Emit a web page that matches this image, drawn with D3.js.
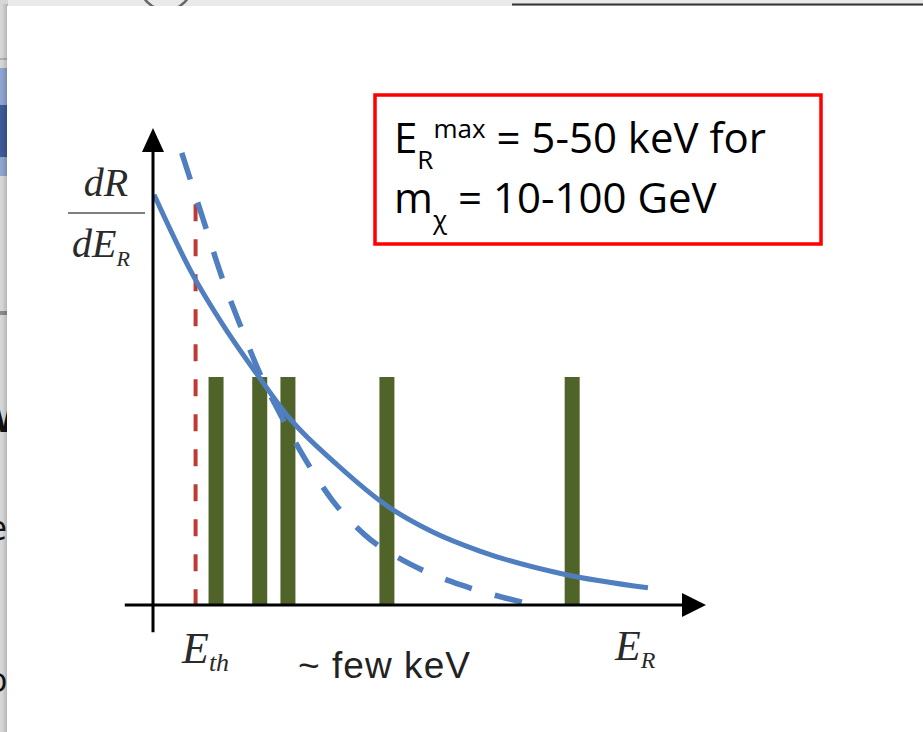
<!DOCTYPE html>
<html>
<head>
<meta charset="utf-8">
<script src="https://cdn.jsdelivr.net/npm/d3@7"></script>
<style>
  body { margin: 0; background: #ececec; }
  svg { display: block; }
</style>
</head>
<body>
<div id="chart"></div>
<script>
// Recoil spectrum sketch, arbitrary units (0-100 on both axes)
const solidCurve = [
    [0.2, 86.0], [7.2, 69.2], [13.0, 58.1], [18.8, 48.4], [24.8, 39.0],
    [33.3, 29.4], [42.3, 20.8], [50.6, 15.3], [59.1, 11.3], [74.1, 6.5],
    [89.5, 3.6]
];
const dashedCurve = [
    [5.2, 94.8], [9.0, 81.1], [12.5, 68.6], [16.1, 57.7], [19.3, 48.6],
    [23.1, 39.8], [27.3, 31.0], [32.4, 22.0], [38.3, 14.7], [46.8, 8.4],
    [55.7, 4.2], [66.7, 0.6]
];
const lineEnergies = [11.4, 19.3, 24.4, 42.3, 75.8];
const lineHeight = 47.8;
const threshold = 7.7;
const thresholdTop = 84.0;

const W = 923, H = 732;
const svg = d3.select("#chart").append("svg")
    .attr("width", W)
    .attr("height", H);

// background slide bits peeking out behind the popup
const bg = svg.append("g");
bg.append("rect").attr("x", 0).attr("y", 0).attr("width", W).attr("height", H).attr("fill", "#e9e9e9");
bg.append("rect").attr("x", 0).attr("y", 0).attr("width", 8).attr("height", H).attr("fill", "#d6d6d6");
bg.append("rect").attr("x", 0).attr("y", 68).attr("width", 8).attr("height", 108).attr("fill", "#8ea3cf");
bg.append("rect").attr("x", 0).attr("y", 105).attr("width", 8).attr("height", 52).attr("fill", "#3d5a96");
bg.append("rect").attr("x", 0).attr("y", 58).attr("width", 8).attr("height", 2).attr("fill", "#b0b0b0");
bg.append("rect").attr("x", 0).attr("y", 311).attr("width", 8).attr("height", 4).attr("fill", "#8a8a8a");
bg.append("line").attr("x1", 512).attr("x2", W).attr("y1", 4.5).attr("y2", 4.5)
    .attr("stroke", "#333").attr("stroke-width", 2);
bg.append("circle").attr("cx", 166).attr("cy", -16).attr("r", 26)
    .attr("fill", "none").attr("stroke", "#666").attr("stroke-width", 2.5);
bg.append("text").attr("x", -24).attr("y", 432).attr("font-family", "Open Sans")
    .attr("font-weight", "bold").attr("font-size", 40).attr("fill", "#111").text("W");
bg.append("text").attr("x", -12).attr("y", 540).attr("font-family", "Open Sans")
    .attr("font-size", 34).attr("fill", "#111").text("e");
bg.append("text").attr("x", -13).attr("y", 692).attr("font-family", "Open Sans")
    .attr("font-size", 34).attr("fill", "#111").text("o");

// popup panel with soft left shadow
const defs = svg.append("defs");
const grad = defs.append("linearGradient").attr("id", "shade").attr("x1", 0).attr("x2", 1);
grad.append("stop").attr("offset", 0).attr("stop-color", "#000").attr("stop-opacity", 0);
grad.append("stop").attr("offset", 1).attr("stop-color", "#000").attr("stop-opacity", 0.18);
svg.append("rect").attr("x", 2).attr("y", 4).attr("width", 6).attr("height", H).attr("fill", "url(#shade)");
svg.append("rect").attr("x", 7).attr("y", 6).attr("width", W).attr("height", H).attr("fill", "#fff");

const x = d3.scaleLinear().domain([0, 100]).range([153, 706]);
const y = d3.scaleLinear().domain([0, 100]).range([605, 128]);

const chart = svg.append("g");

// discrete lines (green bars)
chart.selectAll("rect.peak")
    .data(lineEnergies)
    .enter()
    .append("rect")
    .attr("class", "peak")
    .attr("x", d => x(d) - 7.5)
    .attr("y", y(lineHeight))
    .attr("width", 15)
    .attr("height", y(0) - y(lineHeight))
    .attr("fill", "#50642a");

// threshold
chart.append("line")
    .attr("x1", x(threshold)).attr("x2", x(threshold))
    .attr("y1", y(thresholdTop)).attr("y2", y(0))
    .attr("stroke", "#bd3a35")
    .attr("stroke-width", 4)
    .attr("stroke-dasharray", "17 18");

const line = d3.line()
    .x(d => x(d[0]))
    .y(d => y(d[1]))
    .curve(d3.curveMonotoneX);

const dashed = chart.append("path")
    .attr("d", line(dashedCurve))
    .attr("fill", "none")
    .attr("stroke", "#4f7fc0")
    .attr("stroke-width", 5.5);

// spread the dashes so the curve starts and ends on a dash
const len = dashed.node().getTotalLength();
const dash = 28;
const n = Math.round((len - dash) / 52);
dashed.attr("stroke-dasharray", `${dash} ${(len - (n + 1) * dash) / n}`);

chart.append("path")
    .attr("d", line(solidCurve))
    .attr("fill", "none")
    .attr("stroke", "#4f7fc0")
    .attr("stroke-width", 5);

// axes with arrow heads
chart.append("line")
    .attr("x1", x(-5.1)).attr("x2", x(97))
    .attr("y1", y(0)).attr("y2", y(0))
    .attr("stroke", "#000").attr("stroke-width", 3);
chart.append("line")
    .attr("x1", x(0)).attr("x2", x(0))
    .attr("y1", y(-5.7)).attr("y2", y(96))
    .attr("stroke", "#000").attr("stroke-width", 3);
chart.append("path")
    .attr("d", `M${x(100)},${y(0)} L${x(100) - 24},${y(0) - 12} L${x(100) - 24},${y(0) + 12} Z`)
    .attr("fill", "#000");
chart.append("path")
    .attr("d", `M${x(0)},${y(100)} L${x(0) - 11},${y(100) + 24} L${x(0) + 11},${y(100) + 24} Z`)
    .attr("fill", "#000");

// axis labels
const serif = "Liberation Serif, Times New Roman, serif";
chart.append("text")
    .attr("x", 106).attr("y", 196)
    .attr("text-anchor", "middle")
    .attr("font-family", serif).attr("font-style", "italic")
    .attr("font-size", 40).attr("fill", "#2a2a2a")
    .text("dR");
chart.append("line")
    .attr("x1", 68).attr("x2", 145).attr("y1", 213).attr("y2", 213)
    .attr("stroke", "#555").attr("stroke-width", 1.5);
const dE = chart.append("text")
    .attr("x", 72).attr("y", 257)
    .attr("font-family", serif).attr("font-style", "italic")
    .attr("font-size", 40).attr("fill", "#2a2a2a");
dE.append("tspan").text("dE");
dE.append("tspan").attr("font-size", 22).attr("dy", 9).text("R");

const eth = chart.append("text")
    .attr("x", 182).attr("y", 663)
    .attr("font-family", serif).attr("font-style", "italic")
    .attr("font-size", 44).attr("fill", "#2a2a2a");
eth.append("tspan").text("E");
eth.append("tspan").attr("font-size", 26).attr("dy", 8).text("th");

const er = chart.append("text")
    .attr("x", 615).attr("y", 660)
    .attr("font-family", serif).attr("font-style", "italic")
    .attr("font-size", 42).attr("fill", "#2a2a2a");
er.append("tspan").text("E");
er.append("tspan").attr("font-size", 24).attr("dy", 8).text("R");

chart.append("text")
    .attr("x", 298).attr("y", 678)
    .attr("font-family", "Liberation Sans, Arial, sans-serif")
    .attr("font-size", 37).attr("fill", "#222")
    .attr("textLength", 172)
    .text("~ few keV");

// annotation box
svg.append("rect")
    .attr("x", 375).attr("y", 95)
    .attr("width", 446).attr("height", 149)
    .attr("fill", "#fff")
    .attr("stroke", "#ff0000").attr("stroke-width", 3.5);

const note1 = svg.append("text")
    .attr("x", 394).attr("y", 153)
    .attr("font-family", "Open Sans").attr("font-size", 42).attr("fill", "#000");
note1.append("tspan").text("E");
note1.append("tspan").attr("font-size", 26).attr("dy", 16).text("R");
note1.append("tspan").attr("font-size", 26).attr("dy", -31).text("max");
note1.append("tspan").attr("dy", 15).text(" = 5-50 keV for");

const note2 = svg.append("text")
    .attr("x", 394).attr("y", 213)
    .attr("font-family", "Open Sans").attr("font-size", 42).attr("fill", "#000");
note2.append("tspan").text("m");
note2.append("tspan").attr("font-size", 26).attr("dy", 16).text("χ");
note2.append("tspan").attr("dy", -16).text(" = 10-100 GeV");
</script>
</body>
</html>
